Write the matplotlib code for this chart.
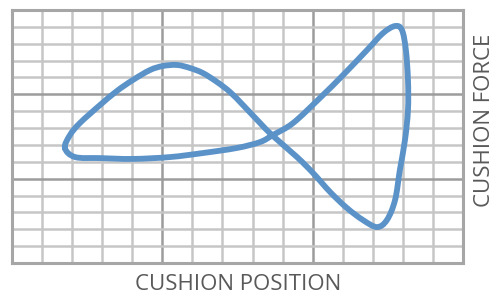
import matplotlib.pyplot as plt
import numpy as np
from matplotlib.path import Path
from matplotlib.patches import PathPatch

# cushion position / force loop (grid units, 15 x 15)
position = [1.76, 1.93, 2.26, 2.93, 3.49, 4.02, 4.59, 5.02, 5.49, 5.92, 6.35, 6.82,
            7.25, 7.68, 8.25, 8.68, 9.48, 10.01, 10.58, 11.14, 11.67, 12.14, 12.47,
            12.74, 12.90, 13.07, 13.17, 13.17, 13.10, 12.97, 12.74, 12.34, 11.81,
            11.01, 10.24, 9.35, 8.68, 8.25, 7.48, 6.35, 5.25, 4.02, 2.93, 2.10]
force = [6.82, 7.59, 8.30, 9.37, 10.20, 10.85, 11.44, 11.68, 11.74, 11.56, 11.26, 10.73,
         10.14, 9.37, 8.30, 7.53, 6.28, 5.34, 4.21, 3.26, 2.55, 2.13, 2.55,
         3.73, 5.51, 7.29, 9.07, 10.85, 12.63, 13.81, 14.05, 13.63, 12.63,
         11.14, 9.78, 8.30, 7.59, 7.17, 6.82, 6.52, 6.28, 6.17, 6.22, 6.28]

fig = plt.figure(figsize=(4.99, 2.96), dpi=100)
ax = fig.add_axes([12 / 499, 33 / 296, 451 / 499, 253 / 296])

ax.set_xlim(0, 15)
ax.set_ylim(0, 15)
ax.set_xticks(np.arange(0, 16, 5))
ax.set_yticks(np.arange(0, 16, 5))
ax.set_xticks(np.arange(0, 16, 1), minor=True)
ax.set_yticks(np.arange(0, 16, 1), minor=True)
ax.tick_params(which='both', length=0, labelbottom=False, labelleft=False)
ax.grid(which='minor', color='#c6c6c6', linewidth=1.8)
ax.grid(which='major', color='#9c9c9c', linewidth=1.8)
ax.set_axisbelow(True)
for s in ax.spines.values():
    s.set_color('#a6a6a6')
    s.set_linewidth(2.2)

# smooth closed curve through the points (catmull-rom -> bezier)
pts = np.column_stack([position, force])
n = len(pts)
verts = [pts[0]]
codes = [Path.MOVETO]
for i in range(n):
    p0, p1, p2, p3 = pts[i - 1], pts[i], pts[(i + 1) % n], pts[(i + 2) % n]
    verts += [p1 + (p2 - p0) / 6, p2 - (p3 - p1) / 6, p2]
    codes += [Path.CURVE4] * 3
ax.add_patch(PathPatch(Path(verts, codes), fill=False, edgecolor='#5b93c9',
                       linewidth=4.2, joinstyle='round', capstyle='round'))

fig.text(238 / 499, 1 - 285 / 296, 'CUSHION POSITION', ha='center', va='center',
         fontsize=16, color='#595959', family='Open Sans')
fig.text(485 / 499, 1 - 120 / 296, 'CUSHION FORCE', ha='center', va='center',
         rotation=90, fontsize=16, color='#595959', family='Open Sans')

fig.savefig('out.png', dpi=100)
